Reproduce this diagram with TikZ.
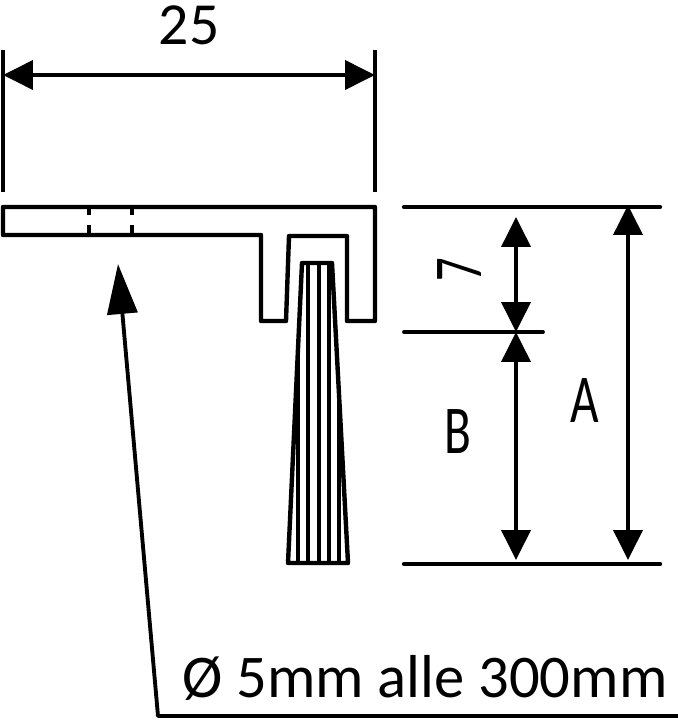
\documentclass[tikz,border=0pt]{standalone}
\usepackage{fontspec}
\setmainfont{Carlito}
\usetikzlibrary{arrows.meta}
\tikzset{
    outline/.style={line width=2.5pt,line join=round,line cap=round},
    thinline/.style={line width=2.1pt},
    holeline/.style={line width=1.8pt},
    bristle/.style={line width=2.8pt},
    dimline/.style={line width=2.2pt,{Triangle[length=0.6cm,width=0.58cm]}-{Triangle[length=0.6cm,width=0.58cm]}},
    leaderline/.style={line width=2.2pt,line join=round,-{Triangle[length=1cm,width=0.6cm]}},
    dimlabel/.style={inner sep=0pt,font=\fontsize{34}{34}\selectfont},
    sizelabel/.style={inner sep=0pt,font=\fontsize{39}{39}\selectfont}
}
\begin{document}
\begin{tikzpicture}[x=0.02cm,y=-0.02cm]
        \useasboundingbox (0,0) rectangle (678,720);
        \draw[outline] (3,207) -- (375,207) -- (375,321) -- (347,321) -- (347,236) -- (289,236) -- (286,321) -- (261,321) -- (261,235) -- (3,235) -- cycle;
        \draw[holeline] (89,207) -- (89,215);
        \draw[holeline] (89,225) -- (89,235);
        \draw[holeline] (132,207) -- (132,215);
        \draw[holeline] (132,225) -- (132,235);
        \draw[outline] (302,263) -- (332,263) -- (348,563) -- (288,563) -- cycle;
        \draw[bristle] (298,349) -- (298,563);
        \draw[bristle] (308,263) -- (308,563);
        \draw[bristle] (319,263) -- (319,563);
        \draw[bristle] (329,263) -- (329,563);
        \draw[bristle] (339,394) -- (339,563);
        \coordinate (widthL) at (3,75);
        \coordinate (widthR) at (375,75);
        \draw[thinline] (3,50) -- (3,192);
        \draw[thinline] (375,50) -- (375,192);
        \draw[dimline] (widthL) -- (widthR);
        \node[dimlabel] (width) at (189,25) {25};
        \draw[outline] (404,207) -- (660,207);
        \draw[outline,line width=2.2pt] (404,332) -- (543,332);
        \draw[outline] (404,564) -- (660,564);
        \coordinate (sevenT) at (516,217);
        \coordinate (sevenB) at (516,332);
        \coordinate (bT) at (516,332);
        \coordinate (bB) at (516,560);
        \coordinate (aT) at (628,205);
        \coordinate (aB) at (628,560);
        \draw[dimline] (sevenT) -- (sevenB);
        \draw[dimline] (bT) -- (bB);
        \draw[dimline] (aT) -- (aB);
        \node[sizelabel,rotate=90,xscale=0.68] (seven) at (460,270) {7};
        \node[sizelabel,xscale=0.72] (b) at (458,432) {B};
        \node[sizelabel,xscale=0.72] (a) at (585,401) {A};
        \coordinate (holeTip) at (118,264);
        \coordinate (leaderEnd) at (678,716);
        \coordinate (leaderBend) at (158,716);
        \draw[leaderline] (leaderEnd) -- (leaderBend) -- (holeTip);
        \node[inner sep=0pt,font=\fontsize{34.5}{34.5}\selectfont] (note) at (425,678) {Ø 5mm alle 300mm};
    \end{tikzpicture}
\end{document}
